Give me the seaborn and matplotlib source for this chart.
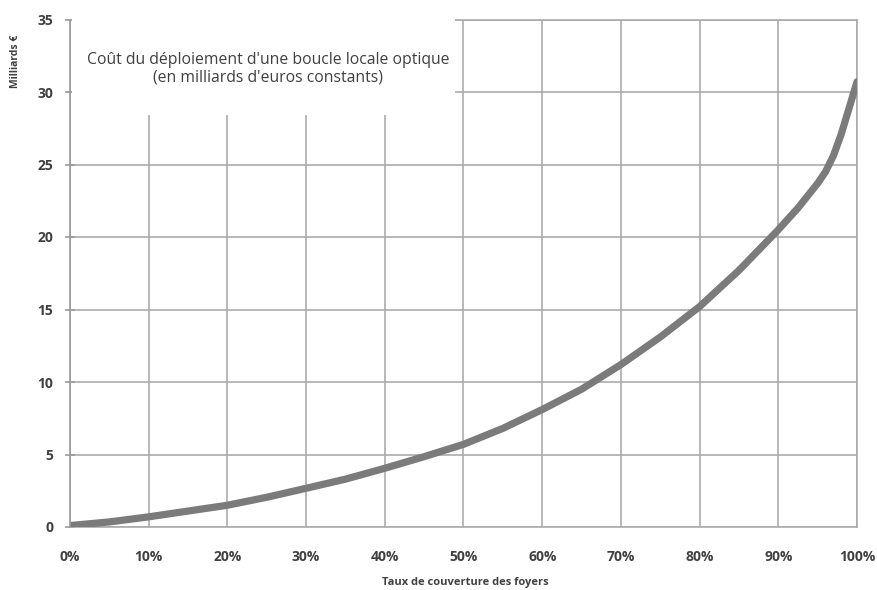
import matplotlib
matplotlib.use("Agg")
import matplotlib.pyplot as plt
from matplotlib.patches import Rectangle
from matplotlib.ticker import FuncFormatter
import seaborn as sns

# Coverage of households (%) and cumulative cost of the fibre local loop (billion €)
coverage = [0, 5, 10, 15, 20, 25, 30, 35, 40, 45, 50, 55, 60, 65, 70,
            75, 80, 85, 90, 92.5, 95, 96, 97, 98, 99, 100]
cost = [0.1, 0.35, 0.7, 1.1, 1.5, 2.05, 2.67, 3.3, 4.05, 4.85, 5.7, 6.8, 8.1,
        9.5, 11.2, 13.1, 15.2, 17.7, 20.5, 22.0, 23.7, 24.5, 25.6, 27.1,
        28.9, 30.7]

x_ticks = [0, 10, 20, 30, 40, 50, 60, 70, 80, 90, 100]
y_ticks = [0, 5, 10, 15, 20, 25, 30, 35]

title_text = "Coût du déploiement d'une boucle locale optique\n(en milliards d'euros constants)"
x_label = "Taux de couverture des foyers"
y_label = "Milliards €"

sns.set_theme(style="white")
plt.rcParams["font.family"] = ["Open Sans", "DejaVu Sans"]

grid_color = "#ababab"
text_color = "#404040"

fig = plt.figure(figsize=(8.77, 5.90), dpi=100)
ax = fig.add_axes([70 / 877, 1 - 527 / 590, 787 / 877, 507.5 / 590])

sns.lineplot(x=coverage, y=cost, ax=ax, color="#7b7b7b", linewidth=5.2,
             solid_capstyle="round", solid_joinstyle="round", zorder=3)

ax.set_xlim(0, 100)
ax.set_ylim(0, 35)
ax.set_xticks(x_ticks)
ax.set_yticks(y_ticks)
ax.xaxis.set_major_formatter(FuncFormatter(lambda v, p: f"{int(v)}%"))

ax.grid(True, color=grid_color, linewidth=1.2)
ax.set_axisbelow(True)

for side in ["top", "right", "bottom"]:
    ax.spines[side].set_color(grid_color)
    ax.spines[side].set_linewidth(1.2)
ax.spines["left"].set_color("#9a9a9a")
ax.spines["left"].set_linewidth(1.2)
ax.spines["left"].set_zorder(3)

ax.tick_params(axis="x", length=0, pad=16.5, labelsize=10, labelcolor=text_color)
ax.tick_params(axis="y", direction="inout", length=7, width=1.2, color="#9a9a9a",
               pad=8.5, labelsize=10, labelcolor=text_color, left=True)
for lbl in ax.get_xticklabels() + ax.get_yticklabels():
    lbl.set_fontweight("bold")

# White panel behind the chart title
ax.add_patch(Rectangle((0.2, 28.4), 48.7, 7.3, facecolor="white", edgecolor="none",
                       zorder=2.6, clip_on=False))
ax.text(0.2516, 0.903, title_text, transform=ax.transAxes, ha="center", va="center",
        multialignment="center", fontsize=11.3, color=text_color, zorder=4)

ax.set_xlabel(x_label, fontsize=8, fontweight="bold", color=text_color)
ax.xaxis.set_label_coords(0.502, -0.0985)
ax.set_ylabel(y_label, fontsize=7.5, fontweight="bold", color=text_color)
ax.yaxis.set_label_coords(-0.062, 0.918)

fig.savefig("out.png", dpi=100, facecolor="white")
